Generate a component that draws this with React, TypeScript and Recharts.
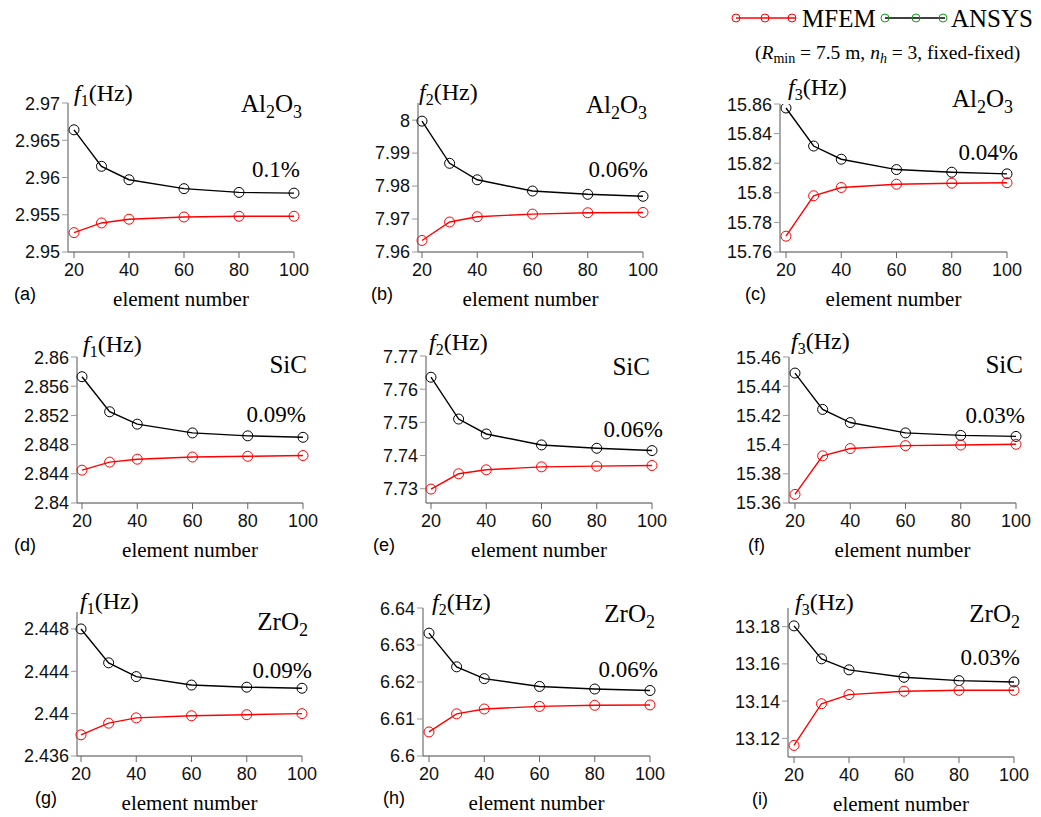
import { LineChart, Line, XAxis, YAxis } from 'recharts'

const elementNumbers = [20, 30, 40, 60, 80, 100]
const xTicks = [20, 40, 60, 80, 100]

// natural frequencies (Hz), MFEM vs ANSYS
const al2o3F1Mfem = [2.9526, 2.9539, 2.9544, 2.9547, 2.9548, 2.9548]
const al2o3F1Ansys = [2.9664, 2.9615, 2.9597, 2.9585, 2.958, 2.9579]
const al2o3F2Mfem = [7.9635, 7.9691, 7.9707, 7.9715, 7.9719, 7.972]
const al2o3F2Ansys = [7.9997, 7.9869, 7.9819, 7.9785, 7.9775, 7.9769]
const al2o3F3Mfem = [15.7707, 15.798, 15.8036, 15.8058, 15.8065, 15.8068]
const al2o3F3Ansys = [15.8573, 15.8316, 15.8227, 15.8157, 15.8139, 15.8128]

const sicF1Mfem = [2.8445, 2.8456, 2.846, 2.8463, 2.8464, 2.8465]
const sicF1Ansys = [2.8573, 2.8525, 2.8508, 2.8496, 2.8492, 2.849]
const sicF2Mfem = [7.7299, 7.7345, 7.7357, 7.7366, 7.7368, 7.737]
const sicF2Ansys = [7.7636, 7.751, 7.7465, 7.7432, 7.7422, 7.7415]
const sicF3Mfem = [15.3659, 15.3923, 15.3973, 15.3993, 15.3997, 15.4002]
const sicF3Ansys = [15.449, 15.4241, 15.4151, 15.408, 15.4063, 15.4056]

const zro2F1Mfem = [2.438, 2.4391, 2.4396, 2.4398, 2.4399, 2.44]
const zro2F1Ansys = [2.448, 2.4448, 2.4435, 2.4427, 2.4425, 2.4424]
const zro2F2Mfem = [6.6065, 6.6114, 6.6127, 6.6134, 6.6137, 6.6138]
const zro2F2Ansys = [6.6332, 6.6241, 6.6209, 6.6188, 6.6181, 6.6177]
const zro2F3Mfem = [13.1162, 13.1386, 13.1435, 13.1453, 13.1458, 13.1458]
const zro2F3Ansys = [13.1804, 13.1627, 13.1568, 13.1528, 13.151, 13.1503]

const ticksA = [2.95, 2.955, 2.96, 2.965, 2.97]
const ticksB = [7.96, 7.97, 7.98, 7.99, 8]
const ticksC = [15.76, 15.78, 15.8, 15.82, 15.84, 15.86]
const ticksD = [2.84, 2.844, 2.848, 2.852, 2.856, 2.86]
const ticksE = [7.73, 7.74, 7.75, 7.76, 7.77]
const ticksF = [15.36, 15.38, 15.4, 15.42, 15.44, 15.46]
const ticksG = [2.436, 2.44, 2.444, 2.448]
const ticksH = [6.6, 6.61, 6.62, 6.63, 6.64]
const ticksI = [13.12, 13.14, 13.16, 13.18]

const materials = ['Al2O3', 'SiC', 'ZrO2']
const errors = ['0.1%', '0.06%', '0.04%', '0.09%', '0.06%', '0.03%', '0.09%', '0.06%', '0.03%']
const tags = ['(a)', '(b)', '(c)', '(d)', '(e)', '(f)', '(g)', '(h)', '(i)']

const SANS = '"Liberation Sans", Arial, sans-serif'
const SERIF = '"Liberation Serif", "Times New Roman", serif'
const YW = 70
const RM = 30

const panels = [
  { mode: 1, mat: 0, mfem: al2o3F1Mfem, ansys: al2o3F1Ansys, ticks: ticksA, domain: [2.95, 2.97],
    axisX: 68, x20: 74, x100: 294, top: 103, bottom: 252, fX: 74, fY: 101,
    matR: 302, matY: 112, pctR: 300, pctY: 177, tagX: 14 },
  { mode: 2, mat: 0, mfem: al2o3F2Mfem, ansys: al2o3F2Ansys, ticks: ticksB, domain: [7.96, 8.0052],
    axisX: 418, x20: 422, x100: 643, top: 103, bottom: 252, fX: 419, fY: 100,
    matR: 647, matY: 113, pctR: 648, pctY: 177, tagX: 371 },
  { mode: 3, mat: 0, mfem: al2o3F3Mfem, ansys: al2o3F3Ansys, ticks: ticksC, domain: [15.76, 15.86],
    axisX: 780, x20: 786, x100: 1007, top: 104, bottom: 252, fX: 788, fY: 95,
    matR: 1013, matY: 107, pctR: 1018, pctY: 160, tagX: 745 },
  { mode: 1, mat: 1, mfem: sicF1Mfem, ansys: sicF1Ansys, ticks: ticksD, domain: [2.84, 2.86],
    axisX: 77, x20: 82, x100: 303, top: 357, bottom: 503, fX: 83, fY: 352,
    matR: 307, matY: 373, pctR: 306, pctY: 422, tagX: 14 },
  { mode: 2, mat: 1, mfem: sicF2Mfem, ansys: sicF2Ansys, ticks: ticksE, domain: [7.7257, 7.77],
    axisX: 426, x20: 431, x100: 652, top: 356, bottom: 503, fX: 429, fY: 350,
    matR: 650, matY: 375, pctR: 663, pctY: 437, tagX: 373 },
  { mode: 3, mat: 1, mfem: sicF3Mfem, ansys: sicF3Ansys, ticks: ticksF, domain: [15.36, 15.46],
    axisX: 789, x20: 795, x100: 1016, top: 357, bottom: 503, fX: 791, fY: 349,
    matR: 1023, matY: 373, pctR: 1025, pctY: 423, tagX: 748 },
  { mode: 1, mat: 2, mfem: zro2F1Mfem, ansys: zro2F1Ansys, ticks: ticksG, domain: [2.436, 2.4496],
    axisX: 77, x20: 81, x100: 302, top: 612, bottom: 756, fX: 80, fY: 609,
    matR: 308, matY: 630, pctR: 312, pctY: 678, tagX: 35 },
  { mode: 2, mat: 2, mfem: zro2F2Mfem, ansys: zro2F2Ansys, ticks: ticksH, domain: [6.6, 6.64],
    axisX: 423, x20: 429, x100: 650, top: 608, bottom: 756, fX: 432, fY: 610,
    matR: 655, matY: 622, pctR: 658, pctY: 677, tagX: 383 },
  { mode: 3, mat: 2, mfem: zro2F3Mfem, ansys: zro2F3Ansys, ticks: ticksI, domain: [13.11, 13.19],
    axisX: 788, x20: 794, x100: 1014, top: 608, bottom: 757, fX: 795, fY: 610,
    matR: 1020, matY: 622, pctR: 1020, pctY: 665, tagX: 752 },
]

const fmt = (v: number) => String(Number(v.toFixed(4)))

function Panel({ p }: { p: any }) {
  const data = elementNumbers.map((n, i) => ({ n, mfem: p.mfem[i], ansys: p.ansys[i] }))
  const plotW = p.x100 - p.axisX
  const plotH = p.bottom - p.top
  return (
    <div style={{ position: 'absolute', left: p.axisX - YW, top: p.top - 10 }}>
      <LineChart width={YW + plotW + RM} height={10 + plotH + 40} data={data}
        margin={{ top: 10, right: RM, bottom: 0, left: 0 }}>
        <XAxis type="number" dataKey="n" domain={[20, 100]} ticks={xTicks} height={40}
          padding={{ left: p.x20 - p.axisX, right: 0 }} tickSize={6} tickMargin={5}
          axisLine={{ stroke: '#444' }} tickLine={{ stroke: '#666' }}
          tick={{ fill: '#111', fontSize: 18, fontFamily: SANS }} />
        <YAxis type="number" domain={p.domain} ticks={p.ticks} width={YW} allowDataOverflow
          tickFormatter={fmt} tickSize={6} tickMargin={2}
          axisLine={{ stroke: '#555' }} tickLine={{ stroke: '#999' }}
          tick={{ fill: '#111', fontSize: 18, fontFamily: SANS }} />
        <Line type="linear" dataKey="ansys" stroke="#000" strokeWidth={1.4}
          dot={{ r: 5, fill: 'none', stroke: '#000', strokeWidth: 1 }} activeDot={false} isAnimationActive={false} />
        <Line type="linear" dataKey="mfem" stroke="#ff0000" strokeWidth={1.4}
          dot={{ r: 5, fill: 'none', stroke: '#ff0000', strokeWidth: 1 }} activeDot={false} isAnimationActive={false} />
      </LineChart>
    </div>
  )
}

function Material({ name }: { name: string }) {
  if (name === 'Al2O3') return (<>Al<tspan fontSize={18} dy={6}>2</tspan><tspan dy={-6}>O</tspan><tspan fontSize={18} dy={6}>3</tspan></>)
  if (name === 'ZrO2') return (<>ZrO<tspan fontSize={18} dy={6}>2</tspan></>)
  return <>{name}</>
}

function Overlay() {
  return (
    <svg width={1041} height={817} style={{ position: 'absolute', left: 0, top: 0, pointerEvents: 'none' }}>
      {/* legend */}
      <line x1={736} y1={18} x2={796} y2={18} stroke="#ff0000" strokeWidth={1.4} />
      {[736, 765, 792].map(cx => <circle key={cx} cx={cx} cy={18} r={4} fill="none" stroke="#ff0000" />)}
      <text x={802} y={27} fontFamily={SERIF} fontSize={25}>MFEM</text>
      <line x1={885} y1={18} x2={945} y2={18} stroke="#000" strokeWidth={1.4} />
      {[885, 916, 943].map(cx => <circle key={cx} cx={cx} cy={18} r={4} fill="none" stroke="#1a9a1a" />)}
      <text x={951} y={27} fontFamily={SERIF} fontSize={25}>ANSYS</text>
      <text x={755} y={59} fontFamily={SERIF} fontSize={19.5}>
        (<tspan fontStyle="italic">R</tspan><tspan fontSize={14} dy={4}>min</tspan><tspan dy={-4}> = 7.5 m, </tspan>
        <tspan fontStyle="italic">n</tspan><tspan fontSize={14} dy={4} fontStyle="italic">h</tspan><tspan dy={-4}> = 3, fixed-fixed)</tspan>
      </text>
      {panels.map((p, i) => (
        <g key={i}>
          <text x={p.fX} y={p.fY} fontFamily={SERIF} fontSize={24}>
            <tspan fontStyle="italic">f</tspan><tspan fontSize={16} dy={5}>{p.mode}</tspan><tspan dy={-5}>(Hz)</tspan>
          </text>
          <text x={p.matR} y={p.matY} textAnchor="end" fontFamily={SERIF} fontSize={25}>
            <Material name={materials[p.mat]} />
          </text>
          <text x={p.pctR} y={p.pctY} textAnchor="end" fontFamily={SERIF} fontSize={23}>{errors[i]}</text>
          <text x={(p.axisX + p.x100) / 2} y={p.bottom + 54} textAnchor="middle" fontFamily={SERIF} fontSize={21}>element number</text>
          <text x={p.tagX} y={p.bottom + 48} fontFamily={SANS} fontSize={18}>{tags[i]}</text>
        </g>
      ))}
    </svg>
  )
}

export default function App() {
  return (
    <div style={{ position: 'absolute', left: 0, top: 0, width: 1041, height: 817, background: '#fff', overflow: 'hidden' }}>
      {panels.map((p, i) => <Panel key={i} p={p} />)}
      <Overlay />
    </div>
  )
}
